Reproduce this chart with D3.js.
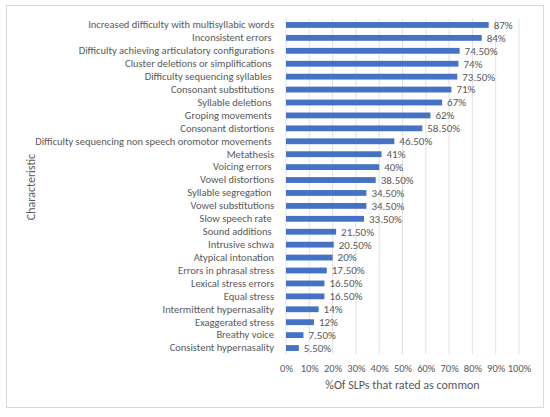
<!DOCTYPE html>
<html>
<head>
<meta charset="utf-8">
<script src="https://cdn.jsdelivr.net/npm/d3@7"></script>
<style>
  body { margin: 0; background: #fff; }
  text { font-family: Carlito, Calibri, "Open Sans", sans-serif; fill: #595959; }
</style>
</head>
<body>
<div class="board"></div>
<script>
// ============================
// DATA
// ============================
var characteristics = [
  'Increased difficulty with multisyllabic words',
  'Inconsistent errors ',
  'Difficulty achieving articulatory configurations',
  'Cluster deletions or simplifications ',
  'Difficulty sequencing syllables ',
  'Consonant substitutions',
  'Syllable deletions ',
  'Groping movements ',
  'Consonant distortions',
  'Difficulty sequencing non speech oromotor movements ',
  'Metathesis',
  'Voicing errors ',
  'Vowel distortions',
  'Syllable segregation ',
  'Vowel substitutions',
  'Slow speech rate ',
  'Sound additions ',
  'Intrusive schwa',
  'Atypical intonation',
  'Errors in phrasal stress',
  'Lexical stress errors',
  'Equal stress',
  'Intermittent hypernasality',
  'Exaggerated stress',
  'Breathy voice',
  'Consistent hypernasality'
];

var ratedCommon = [87, 84, 74.5, 74, 73.5, 71, 67, 62, 58.5, 46.5, 41, 40, 38.5,
                   34.5, 34.5, 33.5, 21.5, 20.5, 20, 17.5, 16.5, 16.5, 14, 12, 7.5, 5.5];

var valueLabels = ['87%', '84%', '74.50%', '74%', '73.50%', '71%', '67%', '62%', '58.50%',
                   '46.50%', '41%', '40%', '38.50%', '34.50%', '34.50%', '33.50%', '21.50%',
                   '20.50%', '20%', '17.50%', '16.50%', '16.50%', '14%', '12%', '7.50%', '5.50%'];

var xTicks = [0, 10, 20, 30, 40, 50, 60, 70, 80, 90, 100];

// ============================
// CONTAINER
// ============================
var width = 550, height = 417;
var plotLeft = 286, plotRight = 519, plotTop = 18.5, plotBottom = 354.5;

var svg = d3.select('.board').append('svg')
            .attr('width', width)
            .attr('height', height);

svg.append('rect')
   .attr('x', 6.5).attr('y', 5.5)
   .attr('width', 537).attr('height', 402)
   .attr('fill', '#fff')
   .attr('stroke', '#d9d9d9');

var x = d3.scaleLinear().domain([0, 100]).range([plotLeft, plotRight]);
var y = d3.scaleBand().domain(characteristics).range([plotTop, plotBottom]).paddingInner(0.55).paddingOuter(0.275);

// gridlines
svg.append('g')
   .selectAll('line')
   .data(xTicks)
   .enter().append('line')
   .attr('x1', d => x(d)).attr('x2', d => x(d))
   .attr('y1', plotTop).attr('y2', plotBottom)
   .attr('stroke', '#d9d9d9')
   .attr('stroke-width', 0.8);

// bars
svg.append('g')
   .selectAll('rect')
   .data(ratedCommon)
   .enter().append('rect')
   .attr('x', x(0))
   .attr('y', (d, i) => y(characteristics[i]))
   .attr('width', d => x(d) - x(0))
   .attr('height', y.bandwidth())
   .attr('fill', '#4472c4');

// value labels
svg.append('g')
   .selectAll('text')
   .data(ratedCommon)
   .enter().append('text')
   .attr('x', d => x(d) + 5)
   .attr('y', (d, i) => y(characteristics[i]) + y.bandwidth() / 2)
   .attr('dy', '0.35em')
   .style('font-size', '11px')
   .text((d, i) => valueLabels[i]);

// y axis labels
var yAxis = svg.append('g')
   .attr('transform', 'translate(' + plotLeft + ',0)')
   .call(d3.axisLeft(y).tickSize(0).tickPadding(12));
yAxis.select('.domain').remove();
yAxis.selectAll('text')
     .style('font-size', '10.5px')
     .style('white-space', 'pre')
     .attr('fill', null);

// x axis
var xAxis = svg.append('g')
   .attr('transform', 'translate(0,' + plotBottom + ')')
   .call(d3.axisBottom(x).tickValues(xTicks).tickSize(0).tickPadding(10).tickFormat(d => d + '%'));
xAxis.select('.domain').remove();
xAxis.selectAll('text')
     .style('font-size', '10.5px')
     .attr('fill', null);

// axis titles
svg.append('text')
   .attr('x', (plotLeft + plotRight) / 2)
   .attr('y', 389)
   .attr('text-anchor', 'middle')
   .style('font-size', '12px')
   .text('%Of SLPs that rated as common');

svg.append('text')
   .attr('transform', 'translate(35,187) rotate(-90)')
   .attr('text-anchor', 'middle')
   .style('font-size', '12px')
   .text('Characteristic');
</script>
</body>
</html>
